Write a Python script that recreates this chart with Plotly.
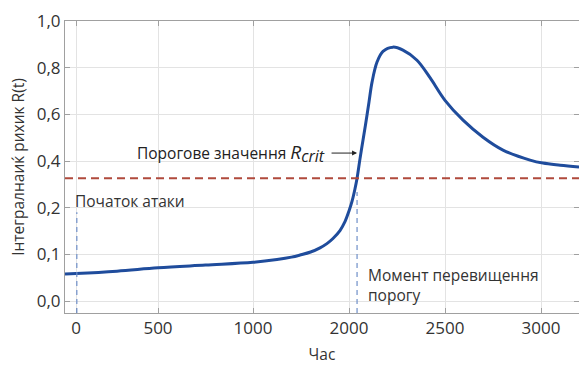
import numpy as np
import plotly.graph_objects as go

# ---- data ----
T = [-67, 0, 250, 500, 750, 1000, 1250, 1400, 1490, 1600, 1698, 1770, 1833, 1906, 1958,
     2000, 2016, 2031, 2042, 2057, 2073, 2089, 2104, 2120, 2146, 2177, 2229, 2281, 2354,
     2422, 2500, 2594, 2698, 2802, 2943, 3010, 3100, 3198]
R = [0.058, 0.059, 0.064, 0.071, 0.077, 0.083, 0.089, 0.094, 0.0985, 0.105, 0.114,
     0.123, 0.134, 0.151, 0.170, 0.193, 0.228, 0.280, 0.326, 0.408, 0.490, 0.571,
     0.652, 0.738, 0.824, 0.870, 0.888, 0.875, 0.832, 0.757, 0.660, 0.575, 0.502,
     0.447, 0.404, 0.391, 0.382, 0.374]

R_CRIT = 0.326
T_ATTACK = 5
T_CROSS = 2042

X_TICK_LABELS = [0, 500, 1000, 2000, 2500, 3000]
Y_TICK_LABELS = [0.0, 0.1, 0.2, 0.4, 0.6, 0.8, 1.0]
Y_TICK_TEXT = ["0,0", "0,1", "0,2", "0,4", "0,6", "0,8", "1,0"]

# ---- axis scales (the reference uses uneven tick spacing) ----
X_TICK_POS = [0, 82, 177, 273, 369, 465]
Y_TICK_POS = [0, 1, 2, 3, 4, 5, 6]


def remap(v, src, dst):
    v = np.asarray(v, dtype=float)
    out = np.interp(v, src, dst)
    sl = (dst[1] - dst[0]) / (src[1] - src[0])
    sr = (dst[-1] - dst[-2]) / (src[-1] - src[-2])
    out = np.where(v < src[0], dst[0] + (v - src[0]) * sl, out)
    out = np.where(v > src[-1], dst[-1] + (v - src[-1]) * sr, out)
    return out


def xp(t):
    return remap(t, X_TICK_LABELS, X_TICK_POS)


def yp(r):
    return remap(r, Y_TICK_LABELS, Y_TICK_POS)


X_RANGE = [-11, 503]
Y_RANGE = [-0.257, 6]

FONT = "Open Sans"
TXT = "#333333"

fig = go.Figure()

fig.add_trace(go.Scatter(
    x=xp(T), y=yp(R), mode="lines",
    line=dict(color="#1f4c9c", width=3, shape="spline", smoothing=1.0),
    hoverinfo="skip", showlegend=False))

# threshold line
fig.add_shape(type="line", xref="paper", x0=0, x1=1, yref="y",
              y0=float(yp(R_CRIT)), y1=float(yp(R_CRIT)),
              line=dict(color="#b04a3c", width=2, dash="8px,5px"))

# vertical markers
fig.add_shape(type="line", xref="x", yref="y",
              x0=float(xp(T_ATTACK)), x1=float(xp(T_ATTACK)),
              y0=Y_RANGE[0], y1=float(yp(0.19)),
              line=dict(color="#6f8fc9", width=1.2, dash="5px,4px"))
fig.add_shape(type="line", xref="x", yref="y",
              x0=float(xp(T_CROSS)), x1=float(xp(T_CROSS)),
              y0=Y_RANGE[0], y1=float(yp(0.267)),
              line=dict(color="#6f8fc9", width=1.2, dash="5px,4px"))

# annotations
fig.add_annotation(x=float(xp(0)), y=float(yp(0.228)), text="Початок атаки",
                   showarrow=False, xanchor="left", yanchor="middle", xshift=-3,
                   font=dict(family=FONT, size=15.5, color=TXT))
fig.add_annotation(x=float(xp(T_CROSS)), y=float(yp(0.034)),
                   text="Момент перевищення<br>порогу", align="left",
                   showarrow=False, xanchor="left", yanchor="middle", xshift=9,
                   font=dict(family=FONT, size=15.5, color=TXT))
fig.add_annotation(x=float(xp(T_CROSS)), y=float(yp(0.434)), text="",
                   showarrow=True, ax=-27, ay=0, axref="pixel", ayref="pixel",
                   arrowhead=2, arrowsize=1, arrowwidth=1, arrowcolor="#222222",
                   standoff=0)
fig.add_annotation(x=float(xp(T_CROSS)), y=float(yp(0.434)),
                   text=("Порогове значення "
                         "<span style='font-size:19px'><i>R</i></span>"
                         "<sub><span style='font-size:16px'><i>crit</i></span></sub>"),
                   showarrow=False, xanchor="right", yanchor="middle", xshift=-30,
                   font=dict(family=FONT, size=15.5, color="#222222"))

fig.update_xaxes(range=X_RANGE, tickvals=list(xp(X_TICK_LABELS)),
                 ticktext=[str(v) for v in X_TICK_LABELS], automargin=False,
                 showgrid=True, gridcolor="#e3e3e3", gridwidth=1,
                 showline=True, linecolor="#a0a0a0", linewidth=1, mirror="ticks",
                 ticks="inside", ticklen=5, tickcolor="#a0a0a0",
                 zeroline=False, tickfont=dict(family=FONT, size=17, color=TXT),
                 title=dict(text="Час", font=dict(family=FONT, size=15.5, color=TXT),
                            standoff=10))
fig.update_yaxes(range=Y_RANGE, tickvals=list(yp(Y_TICK_LABELS)), ticktext=Y_TICK_TEXT,
                 automargin=False,
                 showgrid=True, gridcolor="#e3e3e3", gridwidth=1,
                 showline=True, linecolor="#a0a0a0", linewidth=1, mirror="ticks",
                 ticks="inside", ticklen=5, tickcolor="#a0a0a0",
                 zeroline=False, tickfont=dict(family=FONT, size=17, color=TXT),
                 title=dict(text="Інтегралнаиќ рихик R(t)",
                            font=dict(family=FONT, size=15.5, color=TXT), standoff=8))

fig.update_layout(width=579, height=365, margin=dict(l=65, r=0, t=21, b=52),
                  plot_bgcolor="white", paper_bgcolor="white",
                  font=dict(family=FONT, color=TXT), showlegend=False)

fig.write_html("out.html", config={"displayModeBar": False},
               post_script="document.body.style.margin='0';"
                           "document.body.style.overflow='hidden';")
